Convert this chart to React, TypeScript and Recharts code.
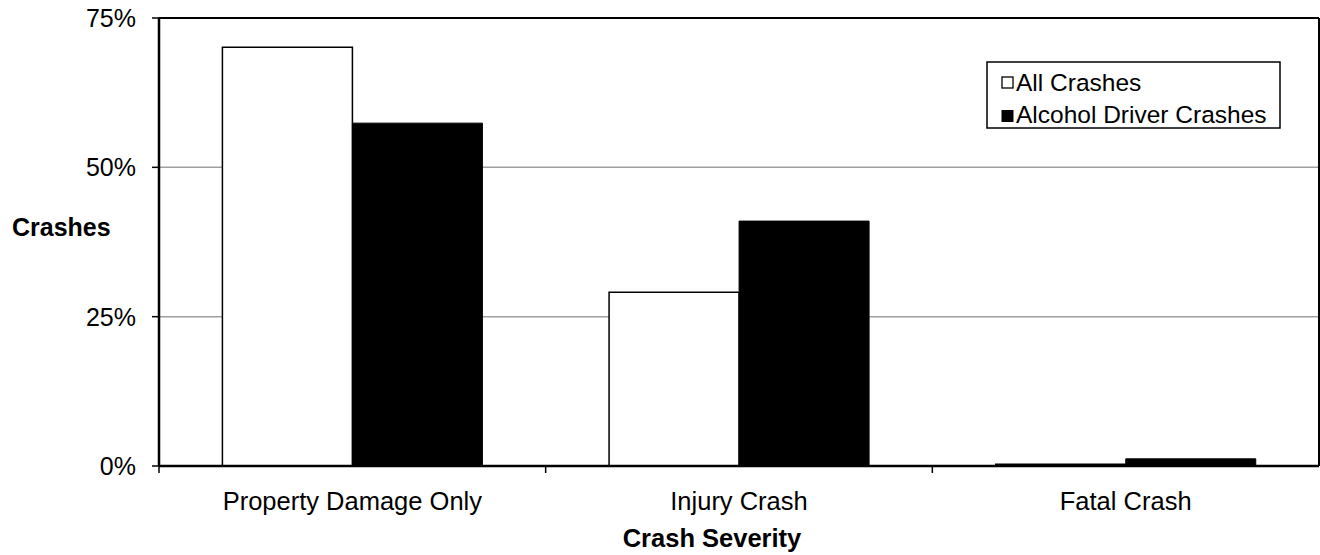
import { BarChart, Bar, XAxis, YAxis, CartesianGrid, ReferenceLine } from "recharts";

const categories = ["Property Damage Only", "Injury Crash", "Fatal Crash"];
const allCrashes = [70.1, 29.1, 0.3];
const alcoholCrashes = [57.4, 41.0, 1.2];
const yTicks = [0, 25, 50, 75];
const seriesNames = ["All Crashes", "Alcohol Driver Crashes"];

const data = categories.map((name, i) => ({
  name,
  all: allCrashes[i],
  alcohol: alcoholCrashes[i],
}));

const FONT = "'Liberation Sans', Arial, sans-serif";

function CategoryTick(props: any) {
  const { x, y, payload, width, visibleTicksCount } = props;
  const band = width / visibleTicksCount;
  const left = x - band / 2;
  return (
    <g>
      <line x1={left} x2={left} y1={y - 8} y2={y - 1} stroke="#000" strokeWidth={1.5} />
      <text x={x} y={y + 36} textAnchor="middle" fontSize={25.5} fill="#000" fontFamily={FONT}>
        {payload.value}
      </text>
    </g>
  );
}

// legend drawn on top of the chart, like the boxed Excel legend
function LegendBox() {
  return (
    <svg
      width={296}
      height={68}
      style={{ position: "absolute", left: 986, top: 61 }}
    >
      <rect x={1} y={1} width={293} height={66} fill="#fff" stroke="#000" strokeWidth={1.5} />
      <rect x={16} y={16} width={11} height={11} fill="#fff" stroke="#000" strokeWidth={1.3} />
      <text x={30} y={29.5} fontSize={24.5} fontFamily={FONT} fill="#000">{seriesNames[0]}</text>
      <rect x={15.5} y={49} width={12} height={12} fill="#000" />
      <text x={30} y={62} fontSize={24.5} fontFamily={FONT} fill="#000">{seriesNames[1]}</text>
    </svg>
  );
}

export default function App() {
  return (
    <div style={{ position: "absolute", left: 0, top: 0, width: 1320, height: 555, background: "#fff" }}>
      <BarChart
        width={1320}
        height={555}
        data={data}
        margin={{ top: 18, right: 0, bottom: 0, left: 0 }}
        barCategoryGap="16.4%"
        barGap={0}
      >
        <CartesianGrid horizontal vertical={false} stroke="#a0a0a0" strokeWidth={1.5} />
        <XAxis
          dataKey="name"
          height={89}
          axisLine={{ stroke: "#000", strokeWidth: 2.5 }}
          tickLine={false}
          tick={<CategoryTick />}
          interval={0}
          label={{
            value: "Crash Severity",
            position: "insideBottom",
            offset: 8,
            dx: -27,
            fontSize: 25.5,
            fontWeight: "bold",
            fill: "#000",
            fontFamily: FONT,
          }}
        />
        <YAxis
          width={159}
          domain={[0, 75]}
          ticks={yTicks}
          tickFormatter={(v: number) => `${v}%`}
          axisLine={{ stroke: "#000", strokeWidth: 2.5 }}
          tickLine={{ stroke: "#000", strokeWidth: 1.5 }}
          tickSize={7}
          tickMargin={16}
          tick={{ fontSize: 25, fill: "#000", fontFamily: FONT }}
          label={{
            value: "Crashes",
            position: "insideLeft",
            offset: 12,
            dy: -15,
            fontSize: 25,
            fontWeight: "bold",
            fill: "#000",
            fontFamily: FONT,
          }}
        />
        <YAxis
          yAxisId="right"
          orientation="right"
          width={1}
          domain={[0, 75]}
          tick={false}
          tickLine={false}
          axisLine={{ stroke: "#000", strokeWidth: 2 }}
        />
        <ReferenceLine y={75} stroke="#000" strokeWidth={2} />
        <Bar dataKey="all" name={seriesNames[0]} fill="#fff" stroke="#000" strokeWidth={1.5} isAnimationActive={false} />
        <Bar dataKey="alcohol" name={seriesNames[1]} fill="#000" stroke="#000" strokeWidth={1} isAnimationActive={false} />
      </BarChart>
      <LegendBox />
    </div>
  );
}
